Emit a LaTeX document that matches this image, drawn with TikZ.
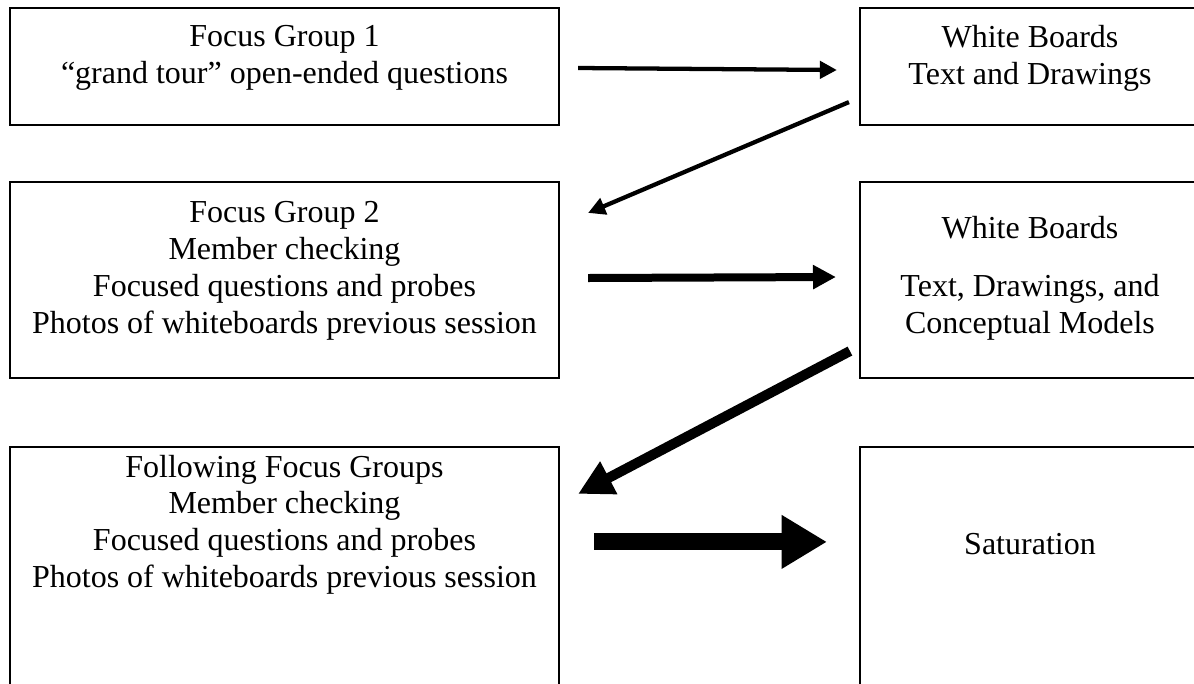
\documentclass[tikz,border=0pt]{standalone}
\usepackage{fontspec}
\setmainfont{Liberation Serif}
\usetikzlibrary{positioning,calc,arrows.meta}

\begin{document}
\begin{tikzpicture}[x=0.375pt,y=-0.375pt,
  lbox/.style={draw, rectangle, line width=0.8pt, minimum width=205.9pt},
  rbox/.style={draw, rectangle, line width=0.8pt, minimum width=127.5pt},
  txt/.style={align=center, inner sep=0pt, font=\fontsize{12}{13.8}\selectfont},
  arrthin/.style={line width=1.6pt, -{Triangle[length=6.4pt,width=6.4pt]}},
  arrmid/.style={line width=3pt, -{Triangle[length=8.6pt,width=8.6pt]}},
  arrthick/.style={line width=3.75pt, -{Triangle[length=13pt,width=13pt]}},
  arrheavy/.style={line width=6.4pt, -{Triangle[length=17pt,width=19pt]}}]
\clip (0,0) rectangle (1194,683);

\node[lbox, minimum height=43.9pt] (fgone) at (284.5,66.5) {};
\node[rbox, minimum height=43.9pt] (wbone) at (1030,66.5) {};
\node[lbox, minimum height=73.5pt] (fgtwo) at (284.5,280) {};
\node[rbox, minimum height=73.5pt] (wbtwo) at (1030,280) {};
\node[lbox, minimum height=102.4pt] (fgnext) at (284.5,583.5) {};
\node[rbox, minimum height=102.4pt] (satur) at (1030,583.5) {};

\node[txt, below=6.6pt of fgone.north] (fgonetxt) {Focus Group 1\\``grand tour'' open-ended questions};
\node[txt, below=6.6pt of wbone.north] (wbonetxt) {White Boards\\Text and Drawings};
\node[txt, below=7.6pt of fgtwo.north] (fgtwotxt) {Focus Group 2\\Member checking\\Focused questions and probes\\Photos of whiteboards previous session};
\node[txt, below=13pt of wbtwo.north] (wbtwotxt) {White Boards\\[8pt]Text, Drawings, and\\Conceptual Models};
\node[txt, below=3.2pt of fgnext.north] (fgnexttxt) {Following Focus Groups\\Member checking\\Focused questions and probes\\Photos of whiteboards previous session};
\node[txt, below=32.5pt of satur.north] (saturtxt) {Saturation};

\draw[arrthin] ($(fgone.east)+(18,1.5)$) -- ($(wbone.west)+(-22,3.5)$);
\draw[arrthin] ($(wbone.south west)+(-10,-24)$) -- ($(fgtwo.north east)+(28,32)$);
\draw[arrmid] ($(fgtwo.east)+(28,-2)$) -- ($(wbtwo.west)+(-23,-3)$);
\draw[arrthick] ($(wbtwo.south west)+(-9,-28)$) -- ($(fgnext.north east)+(18,48)$);
\draw[arrheavy] ($(fgnext.north east)+(34,96)$) -- ($(satur.north west)+(-32,96)$);
\end{tikzpicture}
\end{document}
